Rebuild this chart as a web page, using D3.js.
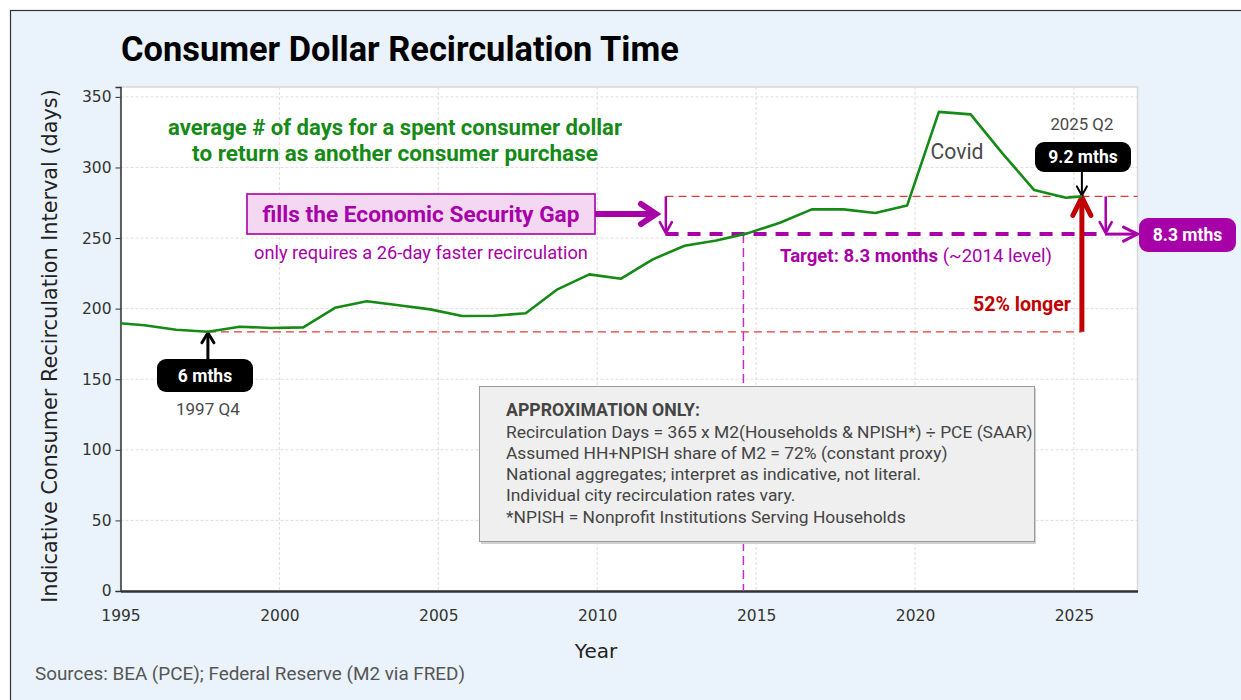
<!DOCTYPE html>
<html>
<head>
<meta charset="utf-8">
<script src="https://cdn.jsdelivr.net/npm/d3@7"></script>
<style>
  html, body { margin: 0; padding: 0; background: #ffffff; }
  svg { display: block; }
</style>
</head>
<body>
<svg id="chart" width="1241" height="700"></svg>
<script>
// données (fin d'année ~ T4, dernier point 2025 T2)
const years = [1995.0, 1995.75, 1996.75, 1997.75, 1998.75, 1999.75, 2000.75, 2001.75, 2002.75, 2003.75,
  2004.75, 2005.75, 2006.75, 2007.75, 2008.75, 2009.75, 2010.75, 2011.75, 2012.75, 2013.75,
  2014.75, 2015.75, 2016.75, 2017.75, 2018.75, 2019.75, 2020.75, 2021.75, 2022.75, 2023.75,
  2024.75, 2025.25];
const days = [189.6, 188.2, 185.0, 183.6, 187.2, 186.3, 186.7, 200.6, 205.2, 202.4,
  199.5, 194.8, 195.0, 196.7, 213.7, 224.3, 221.2, 234.9, 244.6, 248.3,
  253.5, 260.8, 270.3, 270.3, 267.7, 273.0, 339.4, 337.6, 310.0, 284.0,
  278.6, 279.5];
const xTicks = [1995, 2000, 2005, 2010, 2015, 2020, 2025];
const yTicks = [0, 50, 100, 150, 200, 250, 300, 350];

const baseYear = 1997.75, baseDays = 183.6;      // 1997 Q4
const nowYear = 2025.25, nowDays = 279.5;        // 2025 Q2
const targetDays = 252.8, targetYear = 2014.6;   // ~2014 level
const gapStartYear = 2012.15;

const noteLines = [
  "Recirculation Days = 365 x M2(Households & NPISH*) \u00f7 PCE (SAAR)",
  "Assumed HH+NPISH share of M2 = 72% (constant proxy)",
  "National aggregates; interpret as indicative, not literal.",
  "Individual city recirculation rates vary.",
  "*NPISH = Nonprofit Institutions Serving Households"
];

const svg = d3.select('#chart');
const FONT = "Roboto, 'Noto Sans', sans-serif";
const MPL = "'DejaVu Sans', sans-serif";
const GREEN = '#168a16', MAG = '#a800a8', RED = '#c00000', RED2 = '#e03a3a';

// ajuste la taille de police pour tenir une largeur donnée
function fit(t, w) {
  const cur = t.node().getComputedTextLength();
  const fs = parseFloat(t.style('font-size'));
  t.style('font-size', (fs * w / cur).toFixed(2) + 'px');
  return t;
}

// flèche avec pointe ouverte en V
function arrow(g, x1, y1, x2, y2, color, w, hl, hw) {
  const a = Math.atan2(y2 - y1, x2 - x1);
  g.append('line').attr('x1', x1).attr('y1', y1).attr('x2', x2 - Math.cos(a) * w * 0.4).attr('y2', y2 - Math.sin(a) * w * 0.4)
    .attr('stroke', color).attr('stroke-width', w);
  const p1 = [x2 - hl * Math.cos(a) + hw * Math.sin(a), y2 - hl * Math.sin(a) - hw * Math.cos(a)];
  const p2 = [x2 - hl * Math.cos(a) - hw * Math.sin(a), y2 - hl * Math.sin(a) + hw * Math.cos(a)];
  g.append('path').attr('d', `M${p1}L${x2},${y2}L${p2}`)
    .attr('fill', 'none').attr('stroke', color).attr('stroke-width', w)
    .attr('stroke-linecap', 'round').attr('stroke-linejoin', 'miter');
}

function pill(g, x0, y0, x1, y1, fill, label, fs) {
  g.append('rect').attr('x', x0).attr('y', y0).attr('width', x1 - x0).attr('height', y1 - y0)
    .attr('rx', 9).attr('fill', fill);
  g.append('text').attr('x', (x0 + x1) / 2).attr('y', (y0 + y1) / 2).attr('dy', '0.35em')
    .attr('text-anchor', 'middle').style('font-family', FONT).style('font-weight', 700)
    .style('font-size', fs + 'px').attr('fill', '#fff').text(label);
}

// fond de la figure
svg.append('rect').attr('x', 10.5).attr('y', 10.5).attr('width', 1240).attr('height', 700)
  .attr('fill', '#eaf3fb').attr('stroke', '#333').attr('stroke-width', 1.2);

const margin = { left: 120.5, right: 1137.5, top: 87, bottom: 591 };
const x = d3.scaleLinear().domain([1995, 2027]).range([margin.left, margin.right]);
const y = d3.scaleLinear().domain([0, 357]).range([margin.bottom, margin.top]);

// zone du tracé
svg.append('rect').attr('x', margin.left).attr('y', margin.top)
  .attr('width', margin.right - margin.left).attr('height', margin.bottom - margin.top)
  .attr('fill', '#fff').attr('stroke', '#d8d8d8').attr('stroke-width', 1.5);

// grille
const grid = svg.append('g');
grid.selectAll('.gx').data(xTicks.slice(1)).enter().append('line')
  .attr('x1', d => x(d)).attr('x2', d => x(d)).attr('y1', margin.top).attr('y2', margin.bottom)
  .attr('stroke', '#d6d6d6').attr('stroke-width', 0.8).attr('stroke-dasharray', '3,2');
grid.selectAll('.gy').data(yTicks.slice(1)).enter().append('line')
  .attr('x1', margin.left).attr('x2', margin.right).attr('y1', d => y(d)).attr('y2', d => y(d))
  .attr('stroke', '#d6d6d6').attr('stroke-width', 0.8).attr('stroke-dasharray', '3,2');

// axes
const yAxis = svg.append('g').attr('transform', `translate(${margin.left},0)`)
  .call(d3.axisLeft(y).tickValues(yTicks).tickSize(5).tickPadding(4));
const xAxis = svg.append('g').attr('transform', `translate(0,${margin.bottom})`)
  .call(d3.axisBottom(x).tickValues(xTicks).tickFormat(d3.format('d')).tickSize(0).tickPadding(19));
[yAxis, xAxis].forEach(a => {
  a.selectAll('text').style('font-family', MPL).style('font-size', '15.5px').attr('fill', '#333');
  a.select('.domain').attr('stroke', '#333').attr('stroke-width', 1.5);
  a.selectAll('.tick line').attr('stroke', '#333');
});
xAxis.select('.domain').attr('stroke-width', 2.5);

// lignes de référence
const ann = svg.append('g');
ann.append('line').attr('x1', x(baseYear)).attr('x2', x(nowYear)).attr('y1', y(baseDays)).attr('y2', y(baseDays))
  .attr('stroke', RED2).attr('stroke-width', 1.3).attr('stroke-dasharray', '8,5');
ann.append('line').attr('x1', x(gapStartYear)).attr('x2', margin.right).attr('y1', y(nowDays)).attr('y2', y(nowDays))
  .attr('stroke', RED2).attr('stroke-width', 1.1).attr('stroke-dasharray', '8,5');
ann.append('line').attr('x1', x(targetYear)).attr('x2', x(targetYear)).attr('y1', y(targetDays)).attr('y2', margin.bottom)
  .attr('stroke', '#c030c0').attr('stroke-width', 1.5).attr('stroke-dasharray', '9,5');
ann.append('line').attr('x1', x(gapStartYear)).attr('x2', x(2026.0)).attr('y1', y(targetDays)).attr('y2', y(targetDays))
  .attr('stroke', MAG).attr('stroke-width', 4).attr('stroke-dasharray', '13,9');

// courbe
const line = d3.line().x(d => x(d[0])).y(d => y(d[1]));
svg.append('path').datum(years.map((yr, i) => [yr, days[i]]))
  .attr('d', line).attr('fill', 'none').attr('stroke', GREEN).attr('stroke-width', 2.6)
  .attr('stroke-linejoin', 'round');

// flèches
arrow(ann, x(gapStartYear) + 0.3, y(nowDays), x(gapStartYear) + 0.3, y(targetDays) - 1, MAG, 2.5, 11, 6);
arrow(ann, x(2026.0), y(nowDays), x(2026.0), y(targetDays) - 1, MAG, 2.5, 11, 6);
arrow(ann, x(2026.0), y(targetDays), margin.right, y(targetDays), MAG, 3, 14, 7);
arrow(ann, 595, 214, x(2011.85), 214, MAG, 6, 15, 10);
arrow(ann, x(nowYear), y(baseDays), x(nowYear), y(nowDays) + 1, RED, 5, 18, 9);
arrow(ann, x(nowYear), 172, x(nowYear), y(nowDays) - 1, '#000', 2, 9, 5);
arrow(ann, x(baseYear), 359, x(baseYear), y(baseDays) + 1, '#000', 3, 10, 6);

// encadrés
pill(ann, 1035, 142, 1131, 172, '#000', '9.2 mths', 17.5);
pill(ann, 1139, 218, 1236, 252, MAG, '8.3 mths', 17.5);
pill(ann, 157, 359, 253, 392, '#000', '6 mths', 17.5);

ann.append('rect').attr('x', 247).attr('y', 194).attr('width', 348).attr('height', 40)
  .attr('fill', '#f4d8f2').attr('stroke', MAG).attr('stroke-width', 1.6);
fit(ann.append('text').attr('x', 421).attr('y', 214).attr('dy', '0.35em').attr('text-anchor', 'middle')
  .style('font-family', FONT).style('font-weight', 700).style('font-size', '18px').attr('fill', MAG)
  .text('fills the Economic Security Gap'), 317);
fit(ann.append('text').attr('x', 421).attr('y', 253).attr('dy', '0.35em').attr('text-anchor', 'middle')
  .style('font-family', FONT).style('font-size', '15px').attr('fill', MAG)
  .text('only requires a 26-day faster recirculation'), 334);

// textes verts
fit(ann.append('text').attr('x', 395).attr('y', 127).attr('dy', '0.35em').attr('text-anchor', 'middle')
  .style('font-family', FONT).style('font-weight', 700).style('font-size', '19px').attr('fill', GREEN)
  .text('average # of days for a spent consumer dollar'), 454);
fit(ann.append('text').attr('x', 395).attr('y', 153).attr('dy', '0.35em').attr('text-anchor', 'middle')
  .style('font-family', FONT).style('font-weight', 700).style('font-size', '19px').attr('fill', GREEN)
  .text('to return as another consumer purchase'), 406);

// cible
const tg = ann.append('text').attr('x', 780).attr('y', 255).attr('dy', '0.35em')
  .style('font-family', FONT).style('font-size', '16px').attr('fill', MAG);
tg.append('tspan').style('font-weight', 700).text('Target: 8.3 months ');
tg.append('tspan').text('(~2014 level)');
fit(tg, 272);

fit(ann.append('text').attr('x', 1071).attr('y', 304).attr('dy', '0.35em').attr('text-anchor', 'end')
  .style('font-family', FONT).style('font-weight', 700).style('font-size', '16px').attr('fill', RED)
  .text('52% longer'), 98);

const grayText = (tx, ty, s, w) => fit(ann.append('text').attr('x', tx).attr('y', ty).attr('dy', '0.35em')
  .attr('text-anchor', 'middle').style('font-family', FONT).style('font-size', '15px').attr('fill', '#4a4a4a').text(s), w);
grayText(957, 152, 'Covid', 53);
grayText(x(nowYear), 124, '2025 Q2', 63);
grayText(x(baseYear), 409, '1997 Q4', 64);

// note d'approximation
const box = svg.append('g');
box.append('rect').attr('x', 481).attr('y', 388).attr('width', 555).attr('height', 156).attr('fill', '#d0d0d0');
box.append('rect').attr('x', 479.5).attr('y', 386.5).attr('width', 555).attr('height', 155)
  .attr('fill', '#efefef').attr('stroke', '#9a9a9a').attr('stroke-width', 1);
fit(box.append('text').attr('x', 506).attr('y', 410).attr('dy', '0.35em')
  .style('font-family', FONT).style('font-weight', 700).style('font-size', '15px').attr('fill', '#444')
  .text('APPROXIMATION ONLY:'), 194);
box.selectAll('.nl').data(noteLines).enter().append('text')
  .attr('x', 506).attr('y', (d, i) => 431.5 + i * 21.3).attr('dy', '0.35em')
  .style('font-family', FONT).style('font-size', '15px').attr('fill', '#444').text(d => d);
fit(box.selectAll('text').filter((d, i) => i === 1), 527);
box.selectAll('text').filter((d, i) => i > 1).style('font-size', box.selectAll('text').filter((d, i) => i === 1).style('font-size'));

// titres
fit(svg.append('text').attr('x', 121).attr('y', 49).attr('dy', '0.35em')
  .style('font-family', FONT).style('font-weight', 700).style('font-size', '28px').attr('fill', '#000')
  .text('Consumer Dollar Recirculation Time'), 558);
fit(svg.append('text').attr('transform', 'translate(50,346) rotate(-90)').attr('text-anchor', 'middle').attr('dy', '0.35em')
  .style('font-family', MPL).style('font-size', '19.5px').attr('fill', '#222')
  .text('Indicative Consumer Recirculation Interval (days)'), 514);
svg.append('text').attr('x', 596).attr('y', 651).attr('dy', '0.35em').attr('text-anchor', 'middle')
  .style('font-family', MPL).style('font-size', '20px').attr('fill', '#222').text('Year');
fit(svg.append('text').attr('x', 35).attr('y', 673).attr('dy', '0.35em')
  .style('font-family', FONT).style('font-size', '15px').attr('fill', '#555')
  .text('Sources: BEA (PCE); Federal Reserve (M2 via FRED)'), 430);
</script>
</body>
</html>
